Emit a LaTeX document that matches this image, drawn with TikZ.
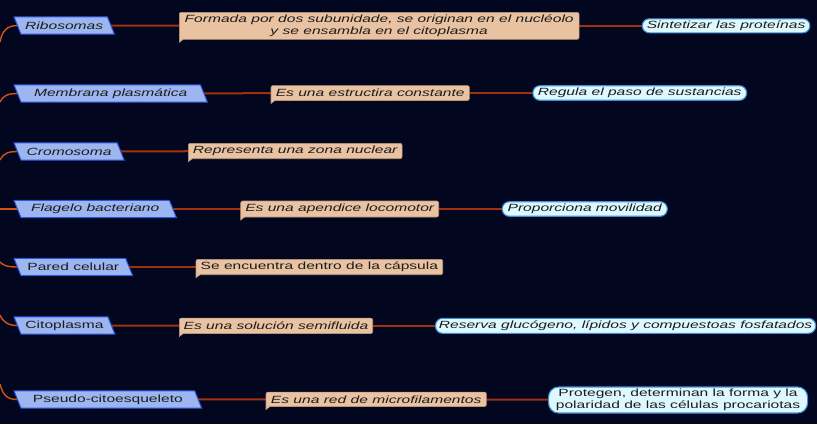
\documentclass[tikz,border=0pt]{standalone}
\usepackage{fontspec}
\setmainfont[FakeStretch=1.49]{Liberation Sans}
\usetikzlibrary{backgrounds}
\definecolor{bg}{HTML}{03061F}
\definecolor{bfill}{HTML}{9DB6F0}
\definecolor{bdraw}{HTML}{2A55E0}
\definecolor{ofill}{HTML}{E9C2A2}
\definecolor{odraw}{HTML}{B89478}
\definecolor{cyf}{HTML}{DDF9FF}
\definecolor{cyb}{HTML}{3F8FD8}
\definecolor{connc}{HTML}{A0300F}
\definecolor{leftc}{HTML}{D4520E}
\definecolor{txt}{HTML}{1C1C1C}
\newcommand\mkpara[1]{\path[pshape] ([xshift=-3.5bp]#1.north west) -- ([xshift=-3.5bp]#1.north east) -- ([xshift=3.5bp]#1.south east) -- ([xshift=3.5bp]#1.south west) -- cycle;}
\newcommand\mkcallout[1]{\path[oshape] ([yshift=-3bp]#1.south west) [rounded corners=2bp] -- (#1.north west) -- (#1.north east) -- (#1.south east) [sharp corners] -- ([xshift=4bp]#1.south west) -- cycle;}
\begin{document}
\begin{tikzpicture}[x=1bp,y=-1bp,
  every node/.style={font=\fontsize{10.5}{11.5}\selectfont, text=txt, inner sep=0pt},
  bl/.style={anchor=west, minimum height=17bp},
  ob/.style={anchor=west, minimum height=15bp},
  cy/.style={anchor=west, minimum height=14.5bp, draw=cyb, fill=cyf, line width=1.1bp, rounded corners=7bp},
  conn/.style={draw=connc, line width=2bp},
  lc/.style={draw=leftc, line width=1.4bp},
  pshape/.style={fill=bfill, draw=bdraw, line width=1bp},
  oshape/.style={fill=ofill, draw=odraw, line width=0.6bp}]
\useasboundingbox (0,0) rectangle (817,424);
% blue nodes
\node[bl, minimum width=93bp] (b1) at (17.5,25.5) {\itshape Ribosomas};
\node[bl, minimum width=186bp] (b2) at (17.5,93.5) {\itshape Membrana plasmática};
\node[bl, minimum width=102.8bp] (b3) at (17.5,151.5) {\itshape Cromosoma};
\node[bl, minimum width=155bp] (b4) at (17.5,209) {\itshape Flagelo bacteriano};
\node[bl, minimum width=111.2bp] (b5) at (17.5,267) {Pared celular};
\node[bl, minimum width=93.5bp] (b6) at (17.5,325.5) {Citoplasma};
\node[bl, minimum width=180.3bp] (b7) at (17.5,399.5) {Pseudo-citoesqueleto};
% orange nodes
\node[ob, minimum width=399.4bp, minimum height=26.6bp, align=center] (o1) at (179.3,25.8) {\itshape Formada por dos subunidade, se originan en el nucléolo\\\itshape y se ensambla en el citoplasma};
\node[ob, minimum width=198bp, minimum height=14.5bp] (o2) at (271,93) {\itshape Es una estructira constante};
\node[ob, minimum width=213.4bp] (o3) at (188.3,151) {\itshape Representa una zona nuclear};
\node[ob, minimum width=197.6bp, minimum height=15.6bp] (o4) at (240.7,209) {\itshape Es una apendice locomotor};
\node[ob, minimum width=246.3bp] (o5) at (196,267) {Se encuentra dentro de la cápsula};
\node[ob, minimum width=193bp] (o6) at (179.3,325.8) {\itshape Es una solución semifluida};
\node[ob, minimum width=220bp, minimum height=14bp] (o7) at (266,399.3) {\itshape Es una red de microfilamentos};
% cyan nodes
\node[cy, minimum width=167.6bp, minimum height=14bp] (c1) at (641.7,25.8) {\itshape Sintetizar las proteínas};
\node[cy, minimum width=213.7bp] (c2) at (532.3,93) {\itshape Regula el paso de sustancias};
\node[cy, minimum width=165bp] (c4) at (501.7,209) {\itshape Proporciona movilidad};
\node[cy, minimum width=380bp, minimum height=15bp] (c6) at (435,325.8) {\itshape Reserva glucógeno, lípidos y compuestoas fosfatados};
\node[cy, minimum width=259bp, minimum height=26bp, rounded corners=10bp, align=center] (c7) at (548,400) {Protegen, determinan la forma y la\\polaridad de las células procariotas};
% free ends of left curves
\coordinate (l1) at (0,42);
\coordinate (l2) at (0,102);
\coordinate (l3) at (0,160);
\coordinate (l4) at (0,209);
\coordinate (l5) at (0,262);
\coordinate (l6) at (0,315);
\coordinate (l7) at (0,384);
\begin{pgfonlayer}{background}
\fill[bg] (0,0) rectangle (817,424);
\draw[conn] (b1) -- (o1); \draw[conn] (o1) -- (c1);
\draw[conn] (b2) -- (o2); \draw[conn] (o2) -- (c2);
\draw[conn] (b3) -- (o3);
\draw[conn] (b4) -- (o4); \draw[conn] (o4) -- (c4);
\draw[conn] (b5) -- (o5);
\draw[conn] (b6) -- (o6); \draw[conn] (o6) -- (c6);
\draw[conn] (b7) -- (o7); \draw[conn] (o7) -- (c7);
\draw[lc] (l1) .. controls (2,31) and (7,25.5) .. (b1.west);
\draw[lc] (l2) .. controls (3,95.5) and (8,93.5) .. (b2.west);
\draw[lc] (l3) .. controls (3,153.5) and (8,151.5) .. (b3.west);
\draw[lc] (l4) -- (b4.west);
\draw[lc] (l5) .. controls (3,265.5) and (8,267) .. (b5.west);
\draw[lc] (l6) .. controls (3,322) and (8,325.5) .. (b6.west);
\draw[lc] (l7) .. controls (3,396) and (8,399.5) .. (b7.west);
\mkpara{b1}\mkpara{b2}\mkpara{b3}\mkpara{b4}\mkpara{b5}\mkpara{b6}\mkpara{b7}
\mkcallout{o1}\mkcallout{o2}\mkcallout{o3}\mkcallout{o4}\mkcallout{o5}\mkcallout{o6}\mkcallout{o7}
\end{pgfonlayer}
\end{tikzpicture}
\end{document}
